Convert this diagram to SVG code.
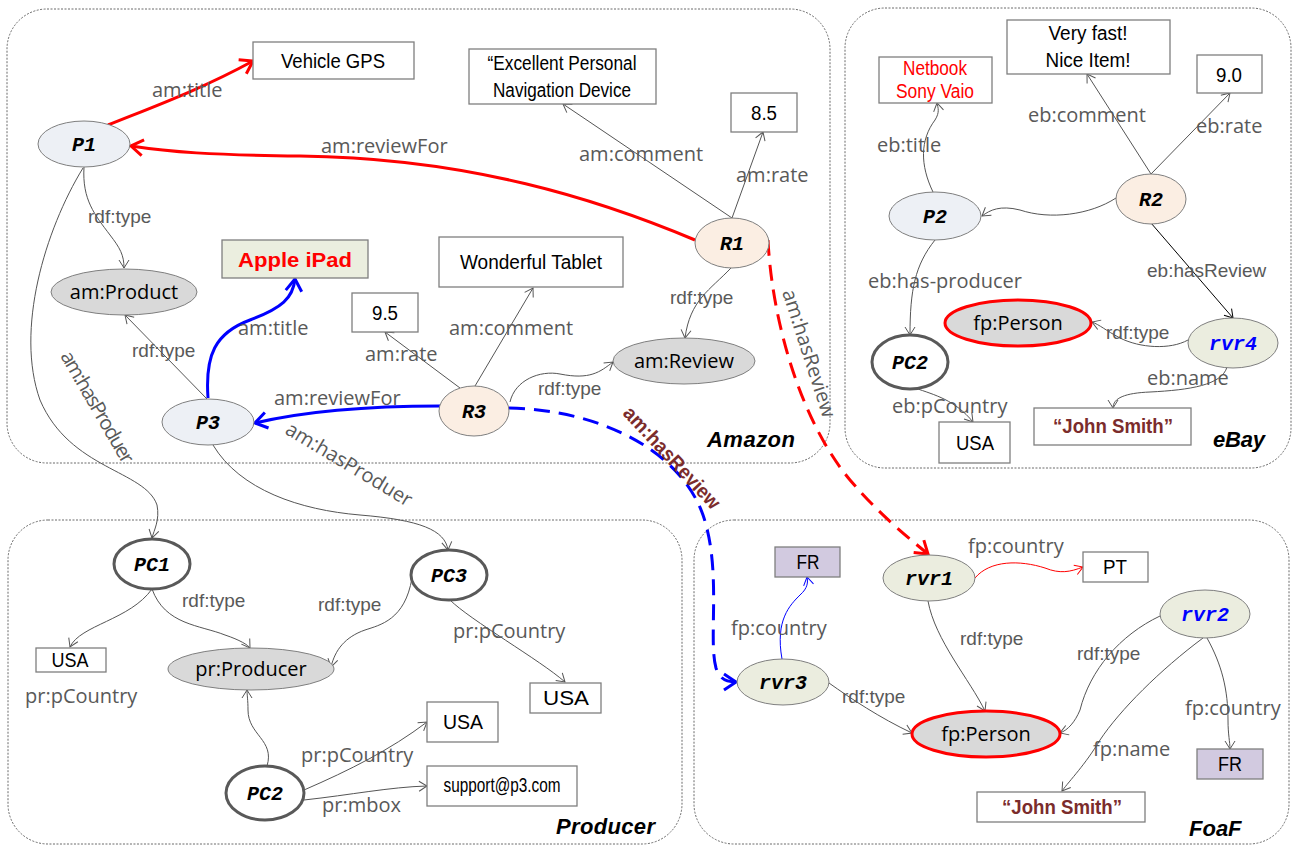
<svg xmlns="http://www.w3.org/2000/svg" width="1297" height="850" viewBox="0 0 1297 850">
<style>
.cont{fill:none;stroke:#6a6a6a;stroke-width:1;stroke-dasharray:2 1.5}
.box{fill:#fff;stroke:#7f7f7f;stroke-width:1.3}
.bt{font-family:"Liberation Sans",Arial,sans-serif;font-size:20px;fill:#000;text-anchor:middle}
.nt{font-family:"Liberation Mono","Courier New",monospace;font-size:20px;font-weight:bold;font-style:italic;fill:#000;text-anchor:middle}
.ct{font-family:"Open Sans",sans-serif;font-size:20px;fill:#000;text-anchor:middle}
.lb{font-family:"Open Sans",sans-serif;font-size:20px;fill:#595959}
.rt{font-family:"Liberation Sans",Arial,sans-serif;font-size:19px;fill:#595959}
.title{font-family:"Liberation Sans",Arial,sans-serif;font-size:22px;font-weight:bold;font-style:italic;fill:#000}
.eP{fill:#edf0f5;stroke:#7f7f7f;stroke-width:1}
.eR{fill:#fbeee3;stroke:#7f7f7f;stroke-width:1}
.eC{fill:#d9d9d9;stroke:#7f7f7f;stroke-width:1}
.ePC{fill:#fff;stroke:#595959;stroke-width:3}
.eV{fill:#ebeddf;stroke:#7f7f7f;stroke-width:1}
.ePer{fill:#d9d9d9;stroke:#ff0000;stroke-width:3}
.g{fill:none;stroke:#555;stroke-width:1;marker-end:url(#ag)}
</style>
<defs>
<marker id="ag" viewBox="-10 -7 12 14" refX="0" refY="0" markerWidth="12" markerHeight="14" markerUnits="userSpaceOnUse" orient="auto"><path d="M-8,-5 L0,0 L-8,5" fill="none" stroke="#555" stroke-width="1"/></marker>
<marker id="ak" viewBox="-10 -7 12 14" refX="0" refY="0" markerWidth="12" markerHeight="14" markerUnits="userSpaceOnUse" orient="auto"><path d="M-8,-5 L0,0 L-8,5" fill="none" stroke="#000" stroke-width="1"/></marker>
<marker id="arT" viewBox="-10 -7 12 14" refX="0" refY="0" markerWidth="12" markerHeight="14" markerUnits="userSpaceOnUse" orient="auto"><path d="M-8,-5 L0,0 L-8,5" fill="none" stroke="#ff0000" stroke-width="1"/></marker>
<marker id="abT" viewBox="-10 -7 12 14" refX="0" refY="0" markerWidth="12" markerHeight="14" markerUnits="userSpaceOnUse" orient="auto"><path d="M-8,-5 L0,0 L-8,5" fill="none" stroke="#0000ff" stroke-width="1"/></marker>
<marker id="ar" viewBox="-16 -11 19 22" refX="0" refY="0" markerWidth="19" markerHeight="22" markerUnits="userSpaceOnUse" orient="auto"><path d="M-12,-8 L0,0 L-12,8" fill="none" stroke="#ff0000" stroke-width="3"/></marker>
<marker id="ab" viewBox="-16 -11 19 22" refX="0" refY="0" markerWidth="19" markerHeight="22" markerUnits="userSpaceOnUse" orient="auto"><path d="M-12,-8 L0,0 L-12,8" fill="none" stroke="#0000ff" stroke-width="3"/></marker>
</defs>

<g id="containers">
<rect class="cont" x="7" y="9" width="823" height="454" rx="40"/>
<rect class="cont" x="845" y="8" width="446" height="460" rx="40"/>
<rect class="cont" x="8" y="520" width="674" height="324" rx="40"/>
<rect class="cont" x="694" y="520" width="595" height="324" rx="40"/>
<text class="title" x="707" y="447" textLength="88">Amazon</text>
<text class="title" x="1213" y="447" textLength="52">eBay</text>
<text class="title" x="556" y="834" textLength="99">Producer</text>
<text class="title" x="1189" y="836">FoaF</text>
</g>

<g id="connectors">
<!-- Amazon -->
<path d="M108,125 C150,108 200,90 253,61" fill="none" stroke="#ff0000" stroke-width="3" marker-end="url(#ar)"/>
<path d="M695,240 C600,200 470,158 300,156 C210,155 170,152 131,146" fill="none" stroke="#ff0000" stroke-width="3" marker-end="url(#ar)"/>
<path d="M208,398 C205,355 215,333 250,320 C282,308 293,298 295,279" fill="none" stroke="#0000ff" stroke-width="3" marker-end="url(#ab)"/>
<path d="M440,406 C380,406 310,410 255,423" fill="none" stroke="#0000ff" stroke-width="3" marker-end="url(#ab)"/>
<path d="M768,240 C772,320 800,420 850,480 C880,515 905,535 928,554" fill="none" stroke="#ff0000" stroke-width="3" stroke-dasharray="16 9" marker-end="url(#ar)"/>
<path d="M509,408 C600,410 680,450 703,515 C722,570 708,640 716,668 C720,680 727,682 736,682" fill="none" stroke="#0000ff" stroke-width="3" stroke-dasharray="16 9" marker-end="url(#ab)"/>
<path class="g" d="M84,167 C82,200 95,215 110,235 C120,248 124,255 124,268"/>
<path class="g" d="M83,168 C45,230 15,330 40,400 C70,470 145,470 157,505 C160,520 154,530 152,538"/>
<path class="g" d="M207,399 L125,315"/>
<path class="g" d="M213,445 C240,490 300,510 360,515 C420,520 445,530 448,550"/>
<path class="g" d="M460,388 L385,332"/>
<path class="g" d="M475,386 L533,288"/>
<path class="g" d="M510,402 C515,380 540,370 560,374 C590,380 600,372 613,362"/>
<path class="g" d="M732,218 L563,104"/>
<path class="g" d="M732,218 L763,132"/>
<path class="g" d="M731,268 C710,290 690,300 685,338"/>
<!-- eBay -->
<path class="g" d="M933,192 C920,165 920,140 935,120 C940,112 938,108 937,103"/>
<path class="g" d="M1116,198 C1090,215 1050,220 1020,210 C1000,205 990,210 982,216"/>
<path class="g" d="M1151,174 L1087,74"/>
<path class="g" d="M1151,174 L1230,93"/>
<path d="M1151,223 L1233,318" fill="none" stroke="#000" stroke-width="1" marker-end="url(#ak)"/>
<path class="g" d="M935,240 C915,265 910,290 910,335"/>
<path class="g" d="M1188,340 C1170,350 1140,348 1120,338 C1105,330 1100,325 1092,322"/>
<path class="g" d="M1227,367 C1222,385 1190,390 1150,392 C1125,393 1113,398 1113,408"/>
<path class="g" d="M915,388 C935,395 955,400 973,422"/>
<!-- Producer -->
<path class="g" d="M152,589 C130,620 80,625 70,647"/>
<path class="g" d="M152,589 C165,625 200,625 225,635 C240,640 248,645 250,648"/>
<path class="g" d="M412,578 C405,620 380,625 365,630 C345,637 335,650 331,667"/>
<path class="g" d="M267,766 C275,740 248,735 248,710 C248,700 247,695 247,690"/>
<path class="g" d="M450,600 C470,620 540,660 565,682"/>
<path class="g" d="M304,790 C350,770 390,750 427,722"/>
<path class="g" d="M304,800 C350,795 390,787 427,786"/>
<!-- FoaF -->
<path d="M782,659 C775,620 790,605 800,595 C808,588 808,582 807,577" fill="none" stroke="#0000ff" stroke-width="1" marker-end="url(#abT)"/>
<path d="M975,578 C990,560 1020,560 1045,568 C1060,574 1070,572 1083,567" fill="none" stroke="#ff0000" stroke-width="1" marker-end="url(#arT)"/>
<path class="g" d="M928,601 C935,640 970,680 985,711"/>
<path class="g" d="M829,683 C850,698 880,718 912,733"/>
<path class="g" d="M1160,616 C1120,635 1090,670 1080,710 C1075,722 1068,730 1060,733"/>
<path class="g" d="M1203,638 C1160,670 1120,710 1100,740 C1085,765 1070,780 1062,791"/>
<path class="g" d="M1207,638 C1222,665 1228,690 1228,720 C1228,735 1230,742 1230,749"/>
</g>

<g id="edge-labels">
<text class="lb" x="152" y="97">am:title</text>
<text class="lb" x="321" y="153">am:reviewFor</text>
<text class="lb" x="579" y="161">am:comment</text>
<text class="lb" x="736" y="182">am:rate</text>
<text class="rt" x="88" y="223">rdf:type</text>
<text class="lb" x="238" y="335">am:title</text>
<text class="rt" x="132" y="357">rdf:type</text>
<text class="lb" x="274" y="405">am:reviewFor</text>
<text class="lb" x="449" y="335">am:comment</text>
<text class="lb" x="365" y="361">am:rate</text>
<text class="rt" x="670" y="304">rdf:type</text>
<text class="rt" x="538" y="395">rdf:type</text>
<text class="lb" font-size="19" transform="translate(782,292) rotate(72)">am:hasReview</text>
<text transform="translate(622,414) rotate(47)" font-family="Liberation Sans,Arial,sans-serif" font-size="20" font-weight="bold" fill="#7b2c2c" textLength="132" lengthAdjust="spacingAndGlyphs">am:hasReview</text>
<text class="lb" font-size="18" transform="translate(60,356) rotate(60)" textLength="126">am:hasProduer</text>
<text class="lb" font-size="18" transform="translate(284,433) rotate(31)">am:hasProduer</text>
<text class="lb" x="1028" y="122">eb:comment</text>
<text class="lb" x="1196" y="133">eb:rate</text>
<text class="lb" x="877" y="152">eb:title</text>
<text class="lb" x="868" y="288">eb:has-producer</text>
<text class="rt" x="1147" y="277">eb:hasReview</text>
<text class="rt" x="1106" y="339">rdf:type</text>
<text class="lb" x="1147" y="385">eb:name</text>
<text class="lb" x="892" y="413">eb:pCountry</text>
<text class="rt" x="182" y="607">rdf:type</text>
<text class="lb" x="25" y="703">pr:pCountry</text>
<text class="rt" x="318" y="611">rdf:type</text>
<text class="lb" x="453" y="638">pr:pCountry</text>
<text class="lb" x="301" y="762">pr:pCountry</text>
<text class="lb" x="322" y="812">pr:mbox</text>
<text class="lb" x="968" y="553">fp:country</text>
<text class="lb" x="731" y="635">fp:country</text>
<text class="rt" x="960" y="645">rdf:type</text>
<text class="rt" x="842" y="703">rdf:type</text>
<text class="rt" x="1077" y="660">rdf:type</text>
<text class="lb" x="1185" y="715">fp:country</text>
<text class="lb" x="1093" y="756">fp:name</text>
</g>

<!-- Amazon nodes -->
<g id="n-vehicle-gps"><rect class="box" x="253" y="42" width="161" height="37"/><text class="bt" x="333" y="68" textLength="104" lengthAdjust="spacingAndGlyphs">Vehicle GPS</text></g>
<g id="n-excellent"><rect class="box" x="469" y="49" width="187" height="55"/><text class="bt" x="562" y="70" textLength="149" lengthAdjust="spacingAndGlyphs">“Excellent Personal</text><text class="bt" x="562" y="97" textLength="138" lengthAdjust="spacingAndGlyphs">Navigation Device</text></g>
<g id="n-85"><rect class="box" x="731" y="93" width="66" height="39"/><text class="bt" x="764" y="120" textLength="26" lengthAdjust="spacingAndGlyphs">8.5</text></g>
<g id="n-P1"><ellipse class="eP" cx="84" cy="144" rx="46" ry="23"/><text class="nt" x="84" y="151">P1</text></g>
<g id="n-R1"><ellipse class="eR" cx="732" cy="243" rx="37" ry="25"/><text class="nt" x="732" y="250">R1</text></g>
<g id="n-am-product"><ellipse class="eC" cx="124" cy="292" rx="73" ry="23"/><text class="ct" x="124" y="299">am:Product</text></g>
<g id="n-apple-ipad"><rect x="222" y="240" width="146" height="38" fill="#ebeedf" stroke="#7f7f7f" stroke-width="1.3"/><text class="bt" x="295" y="267" font-size="22" font-weight="bold" style="fill:#ff0000" textLength="114" lengthAdjust="spacingAndGlyphs">Apple iPad</text></g>
<g id="n-wonderful"><rect class="box" x="439" y="237" width="184" height="50"/><text class="bt" x="531" y="269" textLength="142" lengthAdjust="spacingAndGlyphs">Wonderful Tablet</text></g>
<g id="n-95"><rect class="box" x="352" y="293" width="66" height="39"/><text class="bt" x="385" y="320" textLength="26" lengthAdjust="spacingAndGlyphs">9.5</text></g>
<g id="n-P3"><ellipse class="eP" cx="208" cy="422" rx="46" ry="23"/><text class="nt" x="208" y="429">P3</text></g>
<g id="n-R3"><ellipse class="eR" cx="474" cy="411" rx="35" ry="25"/><text class="nt" x="474" y="418">R3</text></g>
<g id="n-am-review"><ellipse class="eC" cx="684" cy="361" rx="71" ry="23"/><text class="ct" x="684" y="368">am:Review</text></g>

<!-- eBay nodes -->
<g id="n-netbook"><rect class="box" x="879" y="57" width="113" height="46"/><text class="bt" x="935" y="75" font-size="17" style="fill:#ff0000" textLength="64" lengthAdjust="spacingAndGlyphs">Netbook</text><text class="bt" x="935" y="98" font-size="17" style="fill:#ff0000" textLength="78" lengthAdjust="spacingAndGlyphs">Sony Vaio</text></g>
<g id="n-veryfast"><rect class="box" x="1007" y="20" width="163" height="54"/><text class="bt" x="1088" y="40" textLength="79" lengthAdjust="spacingAndGlyphs">Very fast!</text><text class="bt" x="1088" y="67" textLength="85" lengthAdjust="spacingAndGlyphs">Nice Item!</text></g>
<g id="n-90"><rect class="box" x="1197" y="55" width="65" height="38"/><text class="bt" x="1229" y="82" textLength="26" lengthAdjust="spacingAndGlyphs">9.0</text></g>
<g id="n-R2"><ellipse class="eR" cx="1151" cy="199" rx="35" ry="25"/><text class="nt" x="1151" y="206">R2</text></g>
<g id="n-P2"><ellipse class="eP" cx="935" cy="216" rx="46" ry="24"/><text class="nt" x="935" y="223">P2</text></g>
<g id="n-PC2-ebay"><ellipse class="ePC" cx="910" cy="362" rx="38" ry="27"/><text class="nt" x="910" y="369">PC2</text></g>
<g id="n-person-ebay"><ellipse class="ePer" cx="1018" cy="323" rx="73" ry="23"/><text class="ct" x="1018" y="330">fp:Person</text></g>
<g id="n-rvr4"><ellipse class="eV" cx="1233" cy="343" rx="45" ry="25"/><text class="nt" x="1233" y="350" style="fill:#0000ff">rvr4</text></g>
<g id="n-usa-ebay"><rect class="box" x="939" y="422" width="71" height="41"/><text class="bt" x="975" y="450" textLength="38" lengthAdjust="spacingAndGlyphs">USA</text></g>
<g id="n-john-ebay"><rect class="box" x="1034" y="408" width="157" height="37"/><text class="bt" x="1113" y="433" font-weight="bold" style="fill:#7b2c2c" textLength="120" lengthAdjust="spacingAndGlyphs">“John Smith”</text></g>

<!-- Producer nodes -->
<g id="n-PC1"><ellipse class="ePC" cx="152" cy="564" rx="38" ry="25"/><text class="nt" x="152" y="571">PC1</text></g>
<g id="n-usa-pc1"><rect class="box" x="36" y="648" width="70" height="24"/><text class="bt" x="70" y="667" textLength="37" lengthAdjust="spacingAndGlyphs">USA</text></g>
<g id="n-producer"><ellipse class="eC" cx="251" cy="669" rx="83" ry="21"/><text class="ct" x="251" y="676">pr:Producer</text></g>
<g id="n-PC3"><ellipse class="ePC" cx="449" cy="575" rx="38" ry="25"/><text class="nt" x="449" y="582">PC3</text></g>
<g id="n-usa-pc3"><rect class="box" x="530" y="683" width="71" height="30"/><text class="bt" x="566" y="705" textLength="46" lengthAdjust="spacingAndGlyphs">USA</text></g>
<g id="n-usa-pc2"><rect class="box" x="427" y="702" width="71" height="40"/><text class="bt" x="463" y="729" textLength="40" lengthAdjust="spacingAndGlyphs">USA</text></g>
<g id="n-support"><rect class="box" x="427" y="766" width="150" height="40"/><text class="bt" x="502" y="792" font-size="16" textLength="117" lengthAdjust="spacingAndGlyphs">support@p3.com</text></g>
<g id="n-PC2-prod"><ellipse class="ePC" cx="265" cy="793" rx="39" ry="27"/><text class="nt" x="265" y="800">PC2</text></g>

<!-- FoaF nodes -->
<g id="n-fr-left"><rect x="775" y="547" width="65" height="30" fill="#d2cae0" stroke="#7f7f7f" stroke-width="1.3"/><text class="bt" x="808" y="569" textLength="23" lengthAdjust="spacingAndGlyphs">FR</text></g>
<g id="n-rvr1"><ellipse class="eV" cx="929" cy="578" rx="46" ry="23"/><text class="nt" x="929" y="585">rvr1</text></g>
<g id="n-pt"><rect class="box" x="1083" y="552" width="65" height="30"/><text class="bt" x="1115" y="574" textLength="24" lengthAdjust="spacingAndGlyphs">PT</text></g>
<g id="n-rvr3"><ellipse class="eV" cx="783" cy="682" rx="46" ry="23"/><text class="nt" x="783" y="689">rvr3</text></g>
<g id="n-person-foaf"><ellipse class="ePer" cx="986" cy="734" rx="74" ry="23"/><text class="ct" x="986" y="741">fp:Person</text></g>
<g id="n-rvr2"><ellipse class="eV" cx="1205" cy="614" rx="45" ry="24"/><text class="nt" x="1205" y="621" style="fill:#0000ff">rvr2</text></g>
<g id="n-fr-right"><rect x="1197" y="749" width="66" height="30" fill="#d2cae0" stroke="#7f7f7f" stroke-width="1.3"/><text class="bt" x="1230" y="771" textLength="24" lengthAdjust="spacingAndGlyphs">FR</text></g>
<g id="n-john-foaf"><rect class="box" x="977" y="792" width="168" height="30"/><text class="bt" x="1062" y="814" font-weight="bold" style="fill:#7b2c2c" textLength="120" lengthAdjust="spacingAndGlyphs">“John Smith”</text></g>
</svg>
